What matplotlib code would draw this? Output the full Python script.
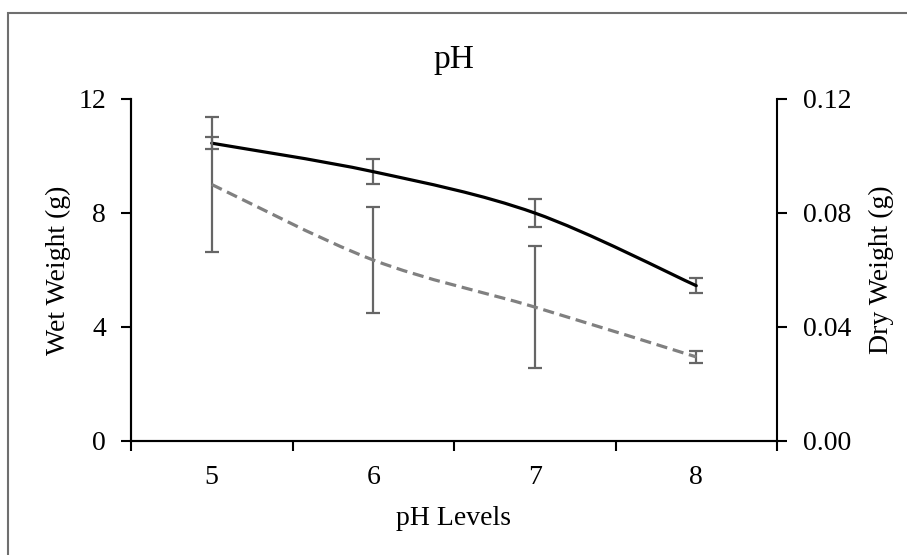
import numpy as np
import matplotlib
matplotlib.use("Agg")
import matplotlib.pyplot as plt
from matplotlib.path import Path
from matplotlib.patches import PathPatch, Rectangle

# data
ph_levels = [5, 6, 7, 8]
wet_weight = [10.45, 9.45, 8.0, 5.45]
wet_err = [0.21, 0.43, 0.49, 0.26]
dry_weight = [0.090, 0.0635, 0.047, 0.0295]
dry_err = [0.0236, 0.0187, 0.0214, 0.0021]

wet_ticks = [0, 4, 8, 12]
dry_ticks = [0.00, 0.04, 0.08, 0.12]

plt.rcParams['font.family'] = ['Liberation Serif', 'DejaVu Serif']
plt.rcParams['font.size'] = 20


def smooth_path(xs, ys):
    # Excel-like smoothed line: Catmull-Rom style bezier through the points
    pts = np.column_stack([xs, ys]).astype(float)
    ext = np.vstack([pts[0], pts, pts[-1]])
    verts = [pts[0]]
    codes = [Path.MOVETO]
    for i in range(len(pts) - 1):
        p0, p1, p2, p3 = ext[i], ext[i + 1], ext[i + 2], ext[i + 3]
        verts += [p1 + (p2 - p0) / 6, p2 - (p3 - p1) / 6, p2]
        codes += [Path.CURVE4] * 3
    return Path(verts, codes)


fig = plt.figure(figsize=(9.07, 5.55), dpi=100)
ax = fig.add_axes([131 / 907, 1 - 441 / 555, (777 - 131) / 907, (441 - 99) / 555])
ax2 = ax.twinx()

err_color = '#666666'

# wet weight (left axis), solid black smoothed line
ax.errorbar(ph_levels, wet_weight, yerr=wet_err, fmt='none', ecolor=err_color,
            elinewidth=1.6, capsize=5, capthick=1.6, zorder=2)
ax.add_patch(PathPatch(smooth_path(ph_levels, wet_weight), fill=False,
                       edgecolor='black', lw=2.3, zorder=3, capstyle='round'))

# dry weight (right axis), dashed grey smoothed line
ax2.errorbar(ph_levels, dry_weight, yerr=dry_err, fmt='none', ecolor=err_color,
             elinewidth=1.6, capsize=5, capthick=1.6, zorder=2)
ax2.add_patch(PathPatch(smooth_path(ph_levels, dry_weight), fill=False,
                        edgecolor='#808080', lw=2.3, linestyle=(0, (3.5, 1.8)), zorder=3))

ax.set_xlim(4.5, 8.5)
ax.set_ylim(0, 12)
ax2.set_ylim(0, 0.12)

ax.set_yticks(wet_ticks)
ax.set_yticklabels([str(t) for t in wet_ticks])
ax2.set_yticks(dry_ticks)
ax2.set_yticklabels([f"{t:.2f}" for t in dry_ticks])

# category axis: ticks between categories, labels at categories
ax.set_xticks(np.arange(4.5, 9.0, 1.0))
ax.set_xticklabels([])
ax.set_xticks(ph_levels, minor=True)
ax.set_xticklabels([str(p) for p in ph_levels], minor=True)
ax.tick_params(axis='x', which='major', direction='out', length=7, width=1.5)
ax.tick_params(axis='x', which='minor', length=0, pad=17)
ax.tick_params(axis='y', direction='out', length=7, width=1.5, pad=11)
ax2.tick_params(axis='y', direction='out', length=7, width=1.5, pad=12)

for a in (ax, ax2):
    a.spines['top'].set_visible(False)
    for s in ('left', 'right', 'bottom'):
        a.spines[s].set_linewidth(1.5)
ax.spines['right'].set_visible(False)

ax.set_title('pH', pad=22)
ax.set_xlabel('pH Levels', labelpad=12)
ax.set_ylabel('Wet Weight (g)', labelpad=5)
ax2.set_ylabel('Dry Weight (g)', labelpad=12)

# chart area border (cropped on the right and bottom)
fig.patches.append(Rectangle((8 / 907, -0.1), 1.2, 1.1 - 13.5 / 555, fill=False,
                             edgecolor='#6f6f6f', lw=1.5, transform=fig.transFigure,
                             clip_on=False))

fig.savefig('out.png', dpi=100)
